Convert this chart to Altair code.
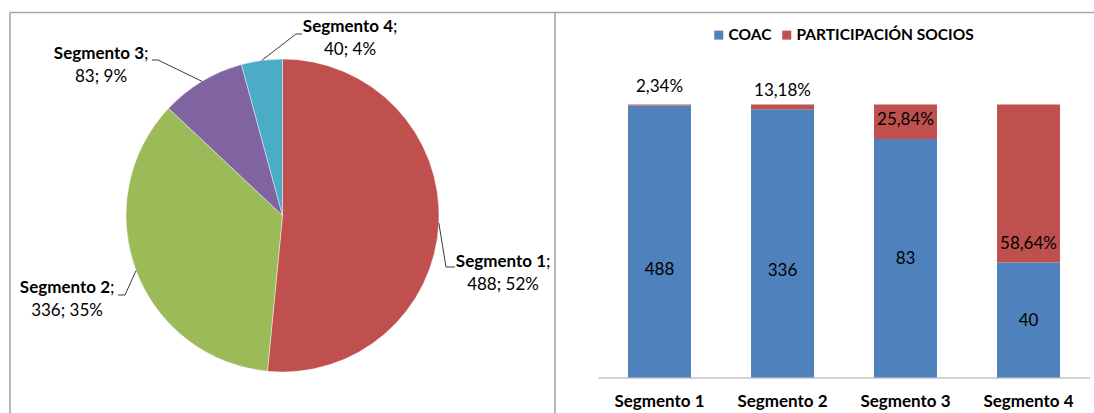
import math

import altair as alt
import pandas as pd

# ---------------------------------------------------------------- data
segments = ["Segmento 1", "Segmento 2", "Segmento 3", "Segmento 4"]
coac = [488, 336, 83, 40]                  # COAC per segment (pie + blue bars)
socios = [2, 6, 12, 55]                    # participación socios (red bars)
socios_pct = [2.34, 13.18, 25.84, 58.64]   # participación socios labels, %

series = ["COAC", "PARTICIPACIÓN SOCIOS"]

# ---------------------------------------------------------------- style
W, H = 1094, 413
FONT = "Lato"
FS = 17
TXT = "#000000"
pie_colors = ["#C0504D", "#9BBB59", "#8064A2", "#4BACC6"]
series_colors = ["#4F81BD", "#C0504D"]
FRAME = "#a6a6a6"

# pie geometry (pixels)
PIE_CX, PIE_CY, PIE_R = 282.5, 215.5, 156.5

# pie label layout: label centre x, first-line y, and the leader elbow/hook
pie_label_pos = {
    "Segmento 1": (503, 262),
    "Segmento 2": (67, 288),
    "Segmento 3": (101, 54),
    "Segmento 4": (350, 27),
}
pie_leader = {
    "Segmento 1": [(446, 267), (455, 267)],
    "Segmento 2": [(125, 295), (118, 295)],
    "Segmento 3": [(158, 60), (152, 60)],
    "Segmento 4": [(296, 34), (302, 34)],
}
NAME_HALF = 43      # offset from label centre to the end of the bold name
LINE_GAP = 23

# bar label nudges (pixels)
count_label_dy = {"Segmento 1": 28, "Segmento 2": 28, "Segmento 3": 1, "Segmento 4": 1}
pct_label_dy = {"Segmento 1": -18, "Segmento 2": -16, "Segmento 3": -2, "Segmento 4": 60}

# ---------------------------------------------------------------- pie
total = sum(coac)
pie_df = pd.DataFrame({"seg": segments, "value": coac, "idx": list(range(len(segments)))})

pie = (
    alt.Chart(pie_df)
    .mark_arc(radius=PIE_R, stroke="#ffffff", strokeWidth=0.6, strokeOpacity=0.7)
    .encode(
        theta=alt.Theta("value:Q", stack=True),
        order=alt.Order("idx:Q"),
        color=alt.Color("seg:N", scale=alt.Scale(domain=segments, range=pie_colors), legend=None),
        x=alt.value(PIE_CX),
        y=alt.value(PIE_CY),
    )
)

# leader lines: from the mid-angle point of each slice rim to its label
rows = []
cum = 0
for s, v in zip(segments, coac):
    mid = (cum + v / 2) / total
    cum += v
    ang = 2 * math.pi * mid
    ax = PIE_CX + PIE_R * math.sin(ang)
    ay = PIE_CY - PIE_R * math.cos(ang)
    pts = [(ax, ay)] + pie_leader[s]
    for k, (px, py) in enumerate(pts):
        rows.append({"seg": s, "step": k, "px": px, "py": py})
leader_df = pd.DataFrame(rows)

leaders = (
    alt.Chart(leader_df)
    .mark_line(color="#262626", strokeWidth=0.9)
    .encode(
        x=alt.X("px:Q", scale=None, axis=None),
        y=alt.Y("py:Q", scale=None, axis=None),
        detail="seg:N",
        order="step:Q",
    )
)

lab_rows = []
for s, v in zip(segments, coac):
    cx, y1 = pie_label_pos[s]
    lab_rows.append({
        "seg": s,
        "nx": cx + NAME_HALF,
        "y1": y1,
        "cx": cx,
        "y2": y1 + LINE_GAP,
        "line2": f"{v}; {round(100 * v / total)}%",
    })
lab_df = pd.DataFrame(lab_rows)

lab_base = alt.Chart(lab_df)
pie_names = lab_base.mark_text(
    font=FONT, fontSize=FS, fontWeight="bold", align="right", baseline="middle", color=TXT
).encode(x=alt.X("nx:Q", scale=None, axis=None), y=alt.Y("y1:Q", scale=None, axis=None), text="seg:N")
pie_semis = lab_base.mark_text(
    font=FONT, fontSize=FS, align="left", baseline="middle", color=TXT
).encode(x=alt.X("nx:Q", scale=None, axis=None), y=alt.Y("y1:Q", scale=None, axis=None), text=alt.value(";"))
pie_vals = lab_base.mark_text(
    font=FONT, fontSize=FS, align="center", baseline="middle", color=TXT
).encode(x=alt.X("cx:Q", scale=None, axis=None), y=alt.Y("y2:Q", scale=None, axis=None), text="line2:N")

# ---------------------------------------------------------------- bars
bar_df = pd.DataFrame({"seg": segments, "coac": coac, "socios": socios, "pct": socios_pct})

x_scale = alt.Scale(domain=segments, range=[598, 1090], paddingInner=0.488, paddingOuter=0.244)
y_scale = alt.Scale(domain=[0, 1], range=[377.5, 104.5])

bars = (
    alt.Chart(bar_df)
    .transform_fold(["coac", "socios"], as_=["key", "value"])
    .transform_calculate(
        serie="datum.key == 'coac' ? 'COAC' : 'PARTICIPACIÓN SOCIOS'",
        ord="datum.key == 'coac' ? 0 : 1",
    )
    .mark_bar()
    .encode(
        x=alt.X(
            "seg:N",
            sort=segments,
            scale=x_scale,
            title=None,
            axis=alt.Axis(
                orient="bottom",
                offset=-35.5,
                ticks=False,
                tickSize=0,
                grid=False,
                labelAngle=0,
                labelPadding=16,
                labelFont=FONT,
                labelFontSize=FS,
                labelFontWeight="bold",
                labelColor=TXT,
                domainColor=FRAME,
                domainWidth=1.2,
            ),
        ),
        y=alt.Y("value:Q", stack="normalize", scale=y_scale, axis=None),
        color=alt.Color(
            "serie:N",
            scale=alt.Scale(domain=series, range=series_colors),
            legend=alt.Legend(
                title=None,
                orient="none",
                legendX=711,
                legendY=27,
                direction="horizontal",
                symbolType="square",
                symbolSize=81,
                symbolStrokeWidth=0,
                labelFont=FONT,
                labelFontSize=15.5,
                labelFontWeight="bold",
                labelColor=TXT,
                labelLimit=0,
                labelOffset=2,
                columnPadding=7,
            ),
        ),
        order=alt.Order("ord:Q"),
    )
)

label_base = alt.Chart(bar_df).transform_calculate(
    coac_mid="datum.coac / (datum.coac + datum.socios) / 2",
    soc_mid="(datum.coac / (datum.coac + datum.socios) + 1) / 2",
    pct_txt="replace(format(datum.pct, '.2f'), '.', ',') + '%'",
)

label_layers = []
for s in segments:
    flt = alt.datum.seg == s
    label_layers.append(
        label_base.transform_filter(flt)
        .mark_text(font=FONT, fontSize=FS, baseline="middle", color=TXT, dy=count_label_dy[s])
        .encode(
            x=alt.X("seg:N", sort=segments, scale=x_scale, axis=None),
            y=alt.Y("coac_mid:Q", scale=y_scale, axis=None),
            text="coac:Q",
        )
    )
    label_layers.append(
        label_base.transform_filter(flt)
        .mark_text(font=FONT, fontSize=FS, baseline="middle", color=TXT, dy=pct_label_dy[s])
        .encode(
            x=alt.X("seg:N", sort=segments, scale=x_scale, axis=None),
            y=alt.Y("soc_mid:Q", scale=y_scale, axis=None),
            text="pct_txt:N",
        )
    )

# ---------------------------------------------------------------- frame
one = pd.DataFrame({"k": [0]})
frame_top = alt.Chart(one).mark_rule(color=FRAME, strokeWidth=1.6).encode(
    x=alt.value(10), x2=alt.value(W), y=alt.value(12.5)
)
frame_left = alt.Chart(one).mark_rule(color=FRAME, strokeWidth=1.6).encode(
    x=alt.value(10), y=alt.value(12.5), y2=alt.value(H)
)
frame_mid = alt.Chart(one).mark_rule(color=FRAME, strokeWidth=1.6).encode(
    x=alt.value(555), y=alt.value(12.5), y2=alt.value(H)
)

chart = (
    alt.layer(
        frame_top, frame_left, frame_mid,
        pie, leaders, pie_names, pie_semis, pie_vals,
        bars, *label_layers,
    )
    .resolve_scale(x="independent", y="independent", color="independent")
    .properties(
        width=W,
        height=H,
        padding=0,
        autosize=alt.AutoSizeParams(type="none"),
        background="#ffffff",
    )
    .configure_view(stroke=None)
)

chart.save("out.html", embed_options={"renderer": "svg", "actions": False})
